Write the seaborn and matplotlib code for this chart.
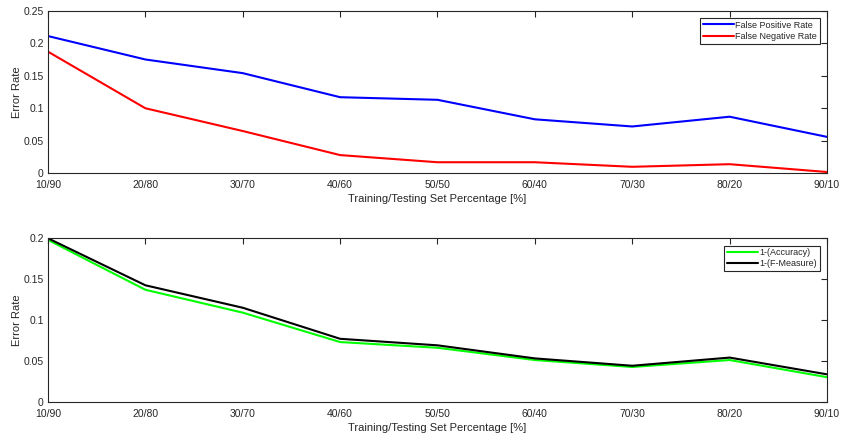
import numpy as np
import pandas as pd
import matplotlib
matplotlib.use("Agg")
import matplotlib.pyplot as plt
import seaborn as sns

# Values
splits = ['10/90', '20/80', '30/70', '40/60', '50/50', '60/40', '70/30', '80/20', '90/10']
false_pos = [0.211, 0.175, 0.154, 0.117, 0.113, 0.083, 0.072, 0.087, 0.056]
false_neg = [0.187, 0.100, 0.065, 0.028, 0.017, 0.017, 0.010, 0.014, 0.002]
one_minus_acc = [0.198, 0.137, 0.109, 0.073, 0.066, 0.051, 0.0425, 0.051, 0.030]
one_minus_f = [0.200, 0.1425, 0.115, 0.077, 0.069, 0.053, 0.044, 0.054, 0.0335]

sns.set_theme(style="white")
plt.rcParams['font.family'] = ['Liberation Sans', 'DejaVu Sans']
plt.rcParams['axes.edgecolor'] = '#262626'
plt.rcParams['axes.linewidth'] = 0.8
plt.rcParams['xtick.color'] = '#262626'
plt.rcParams['ytick.color'] = '#262626'

pos = np.arange(len(splits))
top = pd.DataFrame({'pos': np.tile(pos, 2),
                    'rate': false_pos + false_neg,
                    'series': ['False Positive Rate'] * 9 + ['False Negative Rate'] * 9})
bottom = pd.DataFrame({'pos': np.tile(pos, 2),
                       'rate': one_minus_acc + one_minus_f,
                       'series': ['1-(Accuracy)'] * 9 + ['1-(F-Measure)'] * 9})

fig = plt.figure(figsize=(8.45, 4.4), dpi=100)
ax1 = fig.add_axes([48 / 845, 1 - 173.3 / 440, 779 / 845, 162.6 / 440])
ax2 = fig.add_axes([48 / 845, 1 - 401.7 / 440, 779 / 845, 163.4 / 440])


def style(ax, df, palette, ymax, yticks, yticklabels):
    sns.lineplot(data=df, x='pos', y='rate', hue='series', palette=palette,
                 linewidth=1.5, ax=ax)
    ax.set_xlim(0, len(splits) - 1)
    ax.set_ylim(0, ymax)
    ax.set_xticks(pos)
    ax.set_xticklabels(splits)
    ax.set_yticks(yticks)
    ax.set_yticklabels(yticklabels)
    ax.tick_params(direction='in', top=True, right=True, length=4, width=0.8,
                   labelsize=7.5)
    ax.tick_params(axis='x', pad=5)
    ax.tick_params(axis='y', pad=3)
    for s in ax.spines.values():
        s.set_visible(True)
        s.set_color('#262626')
    ax.set_xlabel('Training/Testing Set Percentage [%]', fontsize=8, color='#262626', labelpad=3)
    ax.set_ylabel('Error Rate', fontsize=8, color='#262626', labelpad=1)
    leg = ax.legend(loc='upper right', fontsize=6.5, frameon=True, fancybox=False,
                    framealpha=1, edgecolor='#262626', borderpad=0.3,
                    handlelength=3.4, handletextpad=0.2, labelspacing=0.25,
                    borderaxespad=0.8)
    leg.get_frame().set_linewidth(0.8)
    for t in leg.get_texts():
        t.set_color('#262626')


style(ax1, top, ['#0000ff', '#ff0000'], 0.25,
      [0, 0.05, 0.1, 0.15, 0.2, 0.25], ['0', '0.05', '0.1', '0.15', '0.2', '0.25'])
style(ax2, bottom, ['#00ff00', '#000000'], 0.2,
      [0, 0.05, 0.1, 0.15, 0.2], ['0', '0.05', '0.1', '0.15', '0.2'])

fig.savefig('out.png', dpi=100)
